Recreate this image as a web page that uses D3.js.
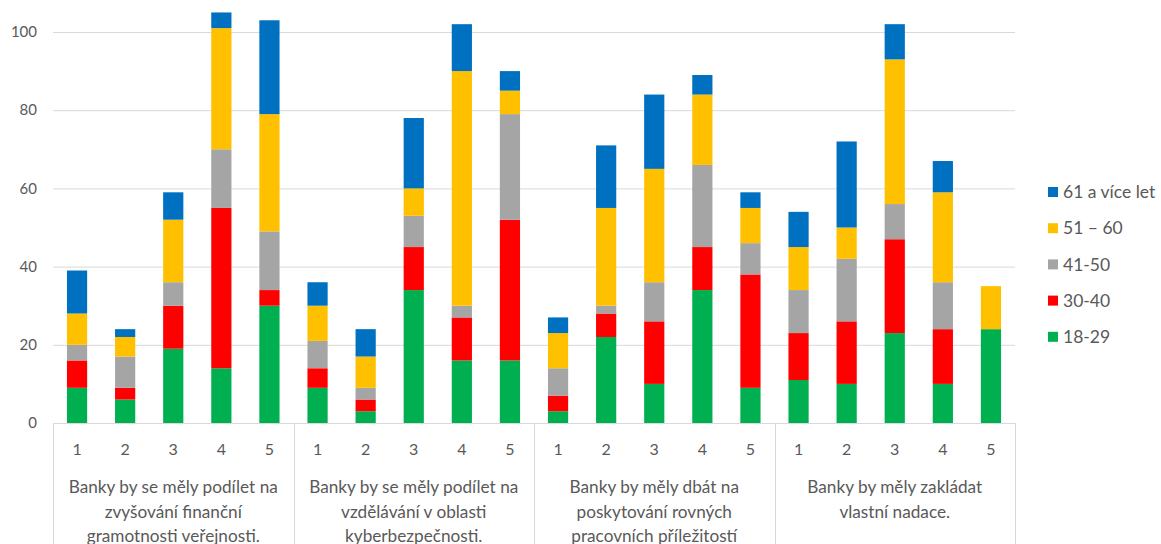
<!DOCTYPE html>
<html><head><meta charset="utf-8">
<script src="https://cdn.jsdelivr.net/npm/d3@7"></script>
<style>body{margin:0;background:#fff;} text{font-family:Lato, "Noto Sans", sans-serif;}</style>
</head><body>
<svg id="c" width="1161" height="544"></svg>
<script>
const groups = [
  ["Banky by se měly podílet na","zvyšování finanční","gramotnosti veřejnosti."],
  ["Banky by se měly podílet na","vzdělávání v oblasti","kyberbezpečnosti."],
  ["Banky by měly dbát na","poskytování rovných","pracovních příležitostí"],
  ["Banky by měly zakládat","vlastní nadace."]
];
const ratings = ["1","2","3","4","5"];
const seriesNames = ["18-29","30-40","41-50","51 – 60","61 a více let"];
const seriesColors = ["#00B050","#FF0000","#A5A5A5","#FFC000","#0070C0"];
// values per group, per rating (1..5)
const s18_29 = [[9,6,19,14,30],[9,3,34,16,16],[3,22,10,34,9],[11,10,23,10,24]];
const s30_40 = [[7,3,11,41,4],[5,3,11,11,36],[4,6,16,11,29],[12,16,24,14,0]];
const s41_50 = [[4,8,6,15,15],[7,3,8,3,27],[7,2,10,21,8],[11,16,9,12,0]];
const s51_60 = [[8,5,16,31,30],[9,8,7,60,6],[9,25,29,18,9],[11,8,37,23,11]];
const s61 = [[11,2,7,4,24],[6,7,18,12,5],[4,16,19,5,4],[9,22,9,8,0]];
const yTicks = [0,20,40,60,80,100];

const series = [s18_29,s30_40,s41_50,s51_60,s61];
const rows = [];
groups.forEach((g,gi)=>ratings.forEach((r,ri)=>{
  const row={key:gi+"-"+r,g:gi,r:r};
  seriesNames.forEach((s,si)=>row[s]=series[si][gi][ri]);
  rows.push(row);
}));
const stack = d3.stack().keys(seriesNames)(rows);

const svg = d3.select("#c");
const left=53,right=1015,base=423;
const x0 = d3.scaleBand().domain(groups.map((d,i)=>i)).range([left,right]).padding(0);
const x1 = d3.scaleBand().domain(ratings).range([0,x0.bandwidth()]).paddingInner(0.58).paddingOuter(0.29);
const y = d3.scaleLinear().domain([0,100]).range([base,32]);
const grey="#595959", lineC="#d9d9d9";

// gridlines
svg.append("g").selectAll("line").data(yTicks.filter(t=>t>0)).join("line")
  .attr("x1",left).attr("x2",right).attr("y1",d=>y(d)+0.5).attr("y2",d=>y(d)+0.5)
  .attr("stroke",lineC).attr("stroke-width",1);
svg.append("g").selectAll("text").data(yTicks).join("text")
  .attr("x",37).attr("y",d=>y(d)).attr("dy","0.35em").attr("text-anchor","end")
  .attr("font-size",15).attr("fill",grey).text(d=>d);

// bars
svg.append("g").selectAll("g").data(stack).join("g")
  .attr("fill",(d,i)=>seriesColors[i])
  .selectAll("rect").data(d=>d).join("rect")
  .attr("x",d=>x0(d.data.g)+x1(d.data.r))
  .attr("width",x1.bandwidth())
  .attr("y",d=>y(d[1]))
  .attr("height",d=>y(d[0])-y(d[1]));

// category axis
svg.append("line").attr("x1",left).attr("x2",right).attr("y1",base+0.5).attr("y2",base+0.5).attr("stroke",lineC);
const seps = groups.map((d,i)=>x0(i)).concat([right]);
svg.append("g").selectAll("line").data(seps).join("line")
  .attr("x1",d=>Math.round(d)+0.5).attr("x2",d=>Math.round(d)+0.5).attr("y1",base).attr("y2",544)
  .attr("stroke",lineC);
const ag = svg.append("g");
groups.forEach((g,gi)=>{
  ratings.forEach(r=>{
    ag.append("text").attr("x",x0(gi)+x1(r)+x1.bandwidth()/2).attr("y",449).attr("dy","0.35em")
      .attr("text-anchor","middle").attr("font-size",16).attr("fill",grey).text(r);
  });
  g.forEach((line,li)=>{
    ag.append("text").attr("x",x0(gi)+x0.bandwidth()/2).attr("y",487+li*24.5).attr("dy","0.35em")
      .attr("text-anchor","middle").attr("font-size",17.2).attr("fill",grey).text(line);
  });
});

// legend
const legOrder = seriesNames.map((s,i)=>i).reverse();
const lg = svg.append("g").selectAll("g").data(legOrder).join("g")
  .attr("transform",(d,i)=>`translate(1048,${192+i*36.2})`);
lg.append("rect").attr("x",0).attr("y",-5).attr("width",10).attr("height",10).attr("fill",d=>seriesColors[d]);
lg.append("text").attr("x",15).attr("y",0).attr("dy","0.35em").attr("font-size",17.5).attr("fill",grey).text(d=>seriesNames[d]);
</script>
</body></html>
